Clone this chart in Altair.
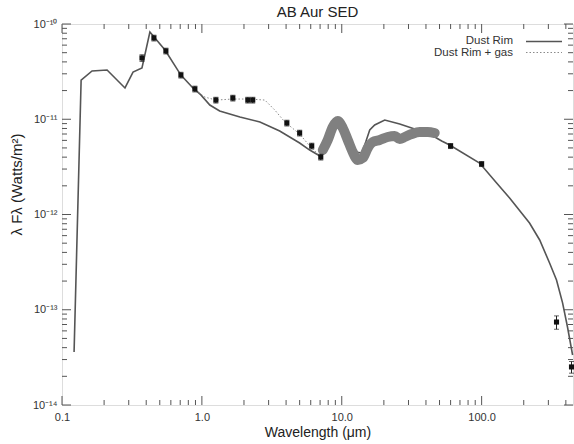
import altair as alt
import pandas as pd

# ---- Data ----
# Dust Rim model (solid line)
rim_wl = [0.122, 0.137, 0.164, 0.210, 0.282, 0.322, 0.373, 0.425, 0.545, 0.708, 0.863, 0.984,
          1.14, 1.34, 1.87, 2.6, 3.6, 5.0, 5.9, 6.97, 7.69, 8.48, 9.36, 10.33, 11.40, 12.59,
          13.90, 14.84, 15.85, 17.2, 20.29, 25.97, 33.2, 42.5, 51.8, 59.1, 96.7, 128, 158.5,
          220, 260, 306, 343, 379, 411, 447]
rim_f = [3.60e-14, 2.58e-11, 3.21e-11, 3.29e-11, 2.13e-11, 3.13e-11, 3.45e-11, 8.24e-11,
         5.33e-11, 2.91e-11, 2.13e-11, 1.80e-11, 1.41e-11, 1.22e-11, 1.056e-11, 9.36e-12,
         7.53e-12, 5.63e-12, 4.75e-12, 4.11e-12, 4.75e-12, 7.35e-12, 1.006e-11, 8.49e-12,
         6.06e-12, 4.53e-12, 4.42e-12, 5.77e-12, 7.71e-12, 8.70e-12, 9.82e-12, 8.91e-12,
         7.90e-12, 7.0e-12, 5.91e-12, 5.37e-12, 3.47e-12, 2.14e-12, 1.49e-12, 8.14e-13,
         5.40e-13, 3.10e-13, 2.05e-13, 1.18e-13, 6.59e-14, 3.35e-14]

# Dust Rim + gas model (dotted line), where it departs from the dust-rim model
gas_wl = [0.863, 1.05, 1.259, 1.665, 2.20, 2.82, 3.32, 3.92, 5.0, 5.9, 6.97]
gas_f = [2.13e-11, 1.71e-11, 1.59e-11, 1.63e-11, 1.63e-11, 1.59e-11, 1.25e-11, 9.36e-12,
         7.0e-12, 5.24e-12, 4.11e-12]

# Observed mid-IR spectrum (thick grey band)
spec_wl = [7.32, 7.94, 8.62, 9.36, 10.17, 11.04, 11.98, 13.01, 14.13, 15.34, 16.65, 18.68,
           21.3, 23.9, 25.97, 28.2, 31.6, 36.1, 41.2, 46.2]
spec_f = [4.75e-12, 6.06e-12, 8.29e-12, 9.58e-12, 8.09e-12, 6.06e-12, 4.53e-12, 3.73e-12,
          3.92e-12, 4.99e-12, 5.77e-12, 6.06e-12, 6.51e-12, 6.67e-12, 6.20e-12, 6.51e-12,
          7.0e-12, 7.35e-12, 7.35e-12, 7.17e-12]

# Photometry (squares with error bars)
obs_wl = [0.373, 0.454, 0.553, 0.708, 0.891, 1.259, 1.665, 2.13, 2.31, 4.05, 5.0, 6.1, 7.08,
          60.0, 100.0, 343, 439]
obs_f = [4.40e-11, 7.13e-11, 5.21e-11, 2.91e-11, 2.08e-11, 1.59e-11, 1.67e-11, 1.59e-11,
         1.59e-11, 9.13e-12, 7.17e-12, 5.24e-12, 4.01e-12, 5.24e-12, 3.39e-12, 7.43e-14,
         2.51e-14]
obs_err = [0.08, 0.07, 0.07, 0.07, 0.07, 0.07, 0.07, 0.07, 0.07, 0.07, 0.07, 0.07, 0.07,
           0.06, 0.06, 0.16, 0.14]

x_major = [0.1, 1, 10, 100]
x_minor = [0.2, 0.3, 0.4, 0.5, 0.6, 0.7, 0.8, 0.9, 2, 3, 4, 5, 6, 7, 8, 9,
           20, 30, 40, 50, 60, 70, 80, 90, 200, 300, 400]
x_labels = ['0.1', '1.0', '10.0', '100.0']
y_major = [1e-14, 1e-13, 1e-12, 1e-11, 1e-10]
y_minor = [m * 10.0 ** e for e in range(-14, -10) for m in range(2, 10)]
y_labels = ['10⁻¹⁴', '10⁻¹³', '10⁻¹²', '10⁻¹¹', '10⁻¹⁰']
legend_labels = ['Dust Rim', 'Dust Rim + gas']

# ---- Chart ----
W, H = 511, 381
FONT = 'Liberation Sans'
AX = '#555555'
xs = alt.Scale(type='log', domain=[0.1, 450], nice=False)
ys = alt.Scale(type='log', domain=[1e-14, 1e-10], nice=False)

rim = pd.DataFrame({'wl': rim_wl, 'f': rim_f})
gas = pd.DataFrame({'wl': gas_wl, 'f': gas_f})
spec = pd.DataFrame({'wl': spec_wl, 'f': spec_f})
obs = pd.DataFrame({'wl': obs_wl, 'f': obs_f, 'e': obs_err})
obs['lo'] = obs['f'] * (1 - obs['e'])
obs['hi'] = obs['f'] * (1 + obs['e'])

x_lab_expr = "[" + ",".join("'%s'" % s for s in x_labels) + "][round(log(datum.value)/LN10)+1]"
y_lab_expr = "[" + ",".join("'%s'" % s for s in y_labels) + "][round(log(datum.value)/LN10)+14]"

xaxis = alt.Axis(values=x_major, labelExpr=x_lab_expr, ticks=False, domain=False, grid=False,
                 title='Wavelength (μm)', labelPadding=6, labelFontSize=11, titleFontSize=14,
                 titlePadding=3, labelFont=FONT, titleFont=FONT, labelColor='#333',
                 titleColor='#222', titleFontWeight='normal', labelFlush=False)
yaxis = alt.Axis(values=y_major, labelExpr=y_lab_expr, ticks=False, domain=False, grid=False,
                 title='λ Fλ (Watts/m²)', labelPadding=5, labelFontSize=11, titleFontSize=15,
                 labelFont=FONT, titleFont=FONT, labelColor='#333', titleColor='#222',
                 titleFontWeight='normal', titleX=-38, titleY=160, labelFlush=False)

X = lambda f: alt.X(f, scale=xs, title='Wavelength (μm)')
Y = lambda f: alt.Y(f, scale=ys, title='λ Fλ (Watts/m²)')

rim_line = alt.Chart(rim).mark_line(color='#555555', strokeWidth=1.6).encode(
    x=alt.X('wl:Q', scale=xs, axis=xaxis),
    y=alt.Y('f:Q', scale=ys, axis=yaxis),
)
gas_line = alt.Chart(gas).mark_line(color='#8a8a8a', strokeWidth=1, strokeDash=[1.5, 2]).encode(
    x=X('wl:Q'), y=Y('f:Q'),
)
spec_line = alt.Chart(spec).mark_line(color='#808080', strokeWidth=10, strokeCap='round',
                                      strokeJoin='round', interpolate='monotone').encode(
    x=X('wl:Q'), y=Y('f:Q'),
)
err_bar = alt.Chart(obs).mark_rule(color='#222', strokeWidth=1).encode(
    x=X('wl:Q'), y=Y('lo:Q'), y2='hi:Q',
)
err_lo = alt.Chart(obs).mark_tick(color='#222', orient='horizontal', size=5, thickness=1).encode(
    x=X('wl:Q'), y=Y('lo:Q'),
)
err_hi = alt.Chart(obs).mark_tick(color='#222', orient='horizontal', size=5, thickness=1).encode(
    x=X('wl:Q'), y=Y('hi:Q'),
)
points = alt.Chart(obs).mark_square(color='#111', size=26, opacity=1, clip=False).encode(
    x=X('wl:Q'), y=Y('f:Q'),
)

# inward IDL-style ticks on all four sides
def xticks(vals, length):
    d = pd.DataFrame({'v': vals})
    bot = alt.Chart(d).mark_rule(color=AX, strokeWidth=1).encode(
        x=X('v:Q'), y=alt.value(H), y2=alt.value(H - length))
    top = alt.Chart(d).mark_rule(color=AX, strokeWidth=1).encode(
        x=X('v:Q'), y=alt.value(0), y2=alt.value(length))
    return [bot, top]

def yticks(vals, length):
    d = pd.DataFrame({'v': vals})
    left = alt.Chart(d).mark_rule(color=AX, strokeWidth=1).encode(
        y=Y('v:Q'), x=alt.value(0), x2=alt.value(length))
    right = alt.Chart(d).mark_rule(color=AX, strokeWidth=1).encode(
        y=Y('v:Q'), x=alt.value(W), x2=alt.value(W - length))
    return [left, right]

ticks = xticks(x_major, 9) + xticks(x_minor, 5) + yticks(y_major, 9) + yticks(y_minor, 5)

# legend (top right)
leg1 = pd.DataFrame({'label': [legend_labels[0]]})
leg2 = pd.DataFrame({'label': [legend_labels[1]]})
leg_t1 = alt.Chart(leg1).mark_text(align='right', baseline='middle', fontSize=11.5, font=FONT,
                                   color='#333').encode(
    x=alt.value(451), y=alt.value(17), text='label:N')
leg_t2 = alt.Chart(leg2).mark_text(align='right', baseline='middle', fontSize=11.5, font=FONT,
                                   color='#333').encode(
    x=alt.value(451), y=alt.value(28.5), text='label:N')
leg_l1 = alt.Chart(leg1).mark_rule(color='#555555', strokeWidth=1.3).encode(
    x=alt.value(464), x2=alt.value(500), y=alt.value(17.5))
leg_l2 = alt.Chart(leg2).mark_rule(color='#8a8a8a', strokeWidth=1, strokeDash=[1.5, 2]).encode(
    x=alt.value(464), x2=alt.value(500), y=alt.value(28.5))

chart = alt.layer(
    rim_line, gas_line, spec_line, err_bar, err_lo, err_hi, points, *ticks,
    leg_t1, leg_t2, leg_l1, leg_l2,
).properties(
    width=W, height=H,
    title=alt.Title('AB Aur SED', fontSize=15, font=FONT, fontWeight='normal', color='#222',
                    anchor='middle', offset=-2),
    padding={'left': 62, 'top': 24, 'right': 1, 'bottom': 39},
    autosize=alt.AutoSizeParams(type='none'),
).configure_view(
    stroke=AX, strokeWidth=1.5
).configure(background='white')

chart.save("out.html", embed_options={"renderer": "svg", "actions": False})
